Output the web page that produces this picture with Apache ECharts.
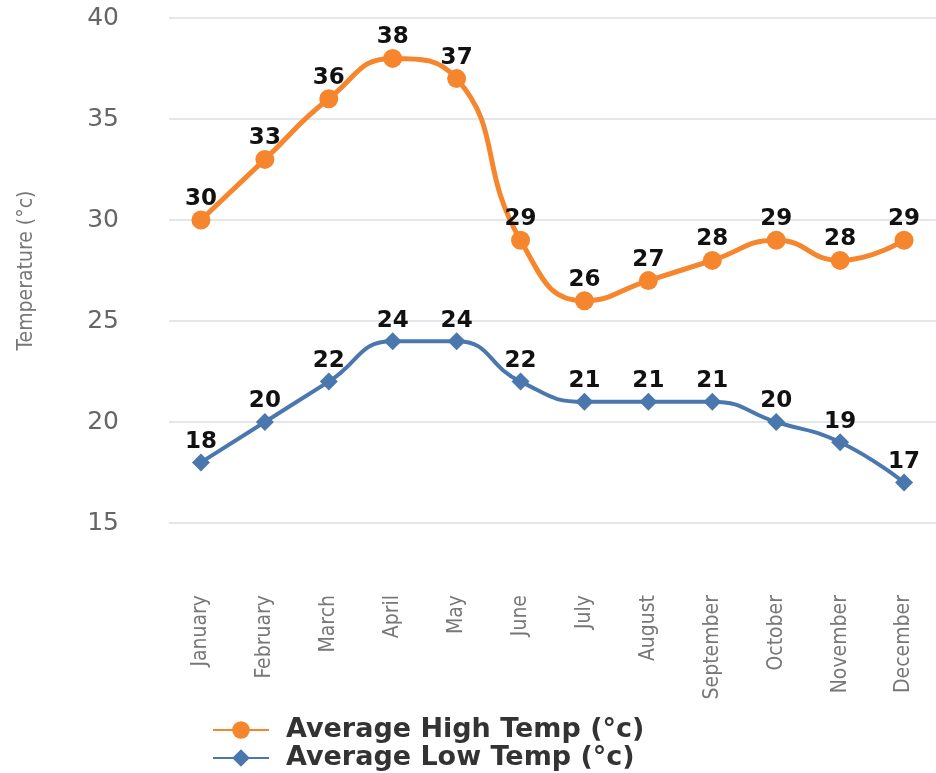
<!DOCTYPE html>
<html>
<head>
<meta charset="utf-8">
<script src="https://cdn.jsdelivr.net/npm/echarts@6/dist/echarts.min.js"></script>
<style>
  html, body { margin: 0; padding: 0; background: #fff; }
  #chart { width: 936px; height: 773px; }
</style>
</head>
<body>
<div id="chart"></div>
<script>
var months = ["January", "February", "March", "April", "May", "June",
  "July", "August", "September", "October", "November", "December"];
var highTemps = [30, 33, 36, 38, 37, 29, 26, 27, 28, 29, 28, 29];
var lowTemps = [18, 20, 22, 24, 24, 22, 21, 21, 21, 20, 19, 17];
var yTicks = [15, 20, 25, 30, 35, 40];

var narrow = "'DejaVu Sans Condensed', 'Roboto', sans-serif";
var wide = "'DejaVu Sans', Verdana, sans-serif";
var labelStyle = {
  show: true,
  position: 'top',
  distance: 0,
  color: '#111',
  fontSize: 23,
  fontWeight: 'bold',
  fontFamily: wide
};

var myChart = echarts.init(document.getElementById('chart'));
var option = {
  animation: false,
  grid: { left: 169, top: 18, width: 770, height: 505, containLabel: false },
  legend: {
    orient: 'vertical',
    left: 207,
    top: 711,
    height: 62,
    itemWidth: 56,
    itemHeight: 22,
    itemGap: 0,
    textStyle: {
      color: '#333', fontSize: 27, fontWeight: 'bold', fontFamily: wide,
      lineHeight: 28, padding: [0, 0, 0, 12]
    },
    data: ['Average High Temp (°c)', 'Average Low Temp (°c)']
  },
  xAxis: {
    type: 'category',
    data: months,
    boundaryGap: true,
    axisLine: { show: false },
    axisTick: { show: false },
    axisLabel: {
      rotate: 90,
      margin: 72,
      color: '#777',
      fontSize: 21,
      fontFamily: narrow,
      interval: 0
    }
  },
  yAxis: {
    type: 'value',
    min: yTicks[0],
    max: yTicks[yTicks.length - 1],
    interval: 5,
    name: 'Temperature (°c)',
    nameLocation: 'middle',
    nameGap: 132,
    nameTextStyle: { color: '#777', fontSize: 21, fontFamily: narrow },
    axisLine: { show: false },
    axisTick: { show: false },
    axisLabel: { margin: 50, color: '#666', fontSize: 25, fontFamily: wide },
    splitLine: { lineStyle: { color: '#e3e6ea', width: 2 } }
  },
  series: [
    {
      name: 'Average High Temp (°c)',
      type: 'line',
      data: highTemps,
      smooth: 0.5,
      symbol: 'circle',
      symbolSize: 19,
      itemStyle: { color: '#F5862E' },
      lineStyle: { color: '#F5862E', width: 5 },
      label: labelStyle
    },
    {
      name: 'Average Low Temp (°c)',
      type: 'line',
      data: lowTemps,
      smooth: 0.5,
      symbol: 'diamond',
      symbolSize: 18,
      itemStyle: { color: '#4A77AD' },
      lineStyle: { color: '#4A77AD', width: 4 },
      label: labelStyle
    }
  ]
};
myChart.setOption(option);
</script>
</body>
</html>
